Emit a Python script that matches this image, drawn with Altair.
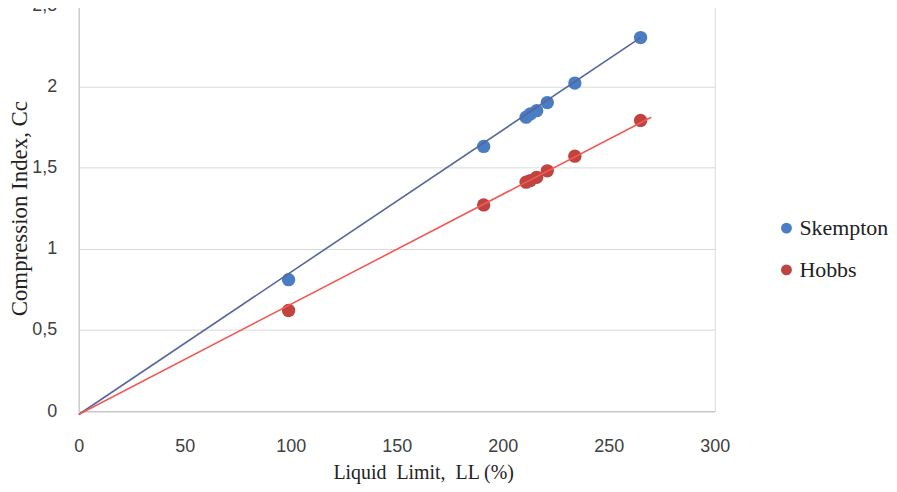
import altair as alt
import pandas as pd

ll = [99, 191, 211, 213, 216, 221, 234, 265]
skempton = [0.81, 1.63, 1.81, 1.83, 1.85, 1.90, 2.02, 2.30]
hobbs = [0.62, 1.27, 1.41, 1.42, 1.44, 1.48, 1.57, 1.79]

trend_x_skempton = [0, 265]
trend_y_skempton = [-0.02, 2.30]
trend_x_hobbs = [0, 270]
trend_y_hobbs = [-0.02, 1.81]

series = ["Skempton", "Hobbs"]
point_colors = ["#4a7dc4", "#c0433f"]
line_colors = ["#56669a", "#f25a55"]

pts = pd.DataFrame(
    {"LL": ll * 2, "Cc": skempton + hobbs, "Series": ["Skempton"] * len(ll) + ["Hobbs"] * len(ll)}
)
trend = pd.DataFrame(
    {
        "LL": trend_x_skempton + trend_x_hobbs,
        "Cc": trend_y_skempton + trend_y_hobbs,
        "Series": ["Skempton"] * 2 + ["Hobbs"] * 2,
    }
)

xscale = alt.Scale(domain=[0, 300], nice=False, zero=False)
yscale = alt.Scale(domain=[0, 2.5], nice=False, zero=False)

xaxis = alt.Axis(
    title="Liquid\u00a0 Limit,\u00a0\u00a0LL (%)",
    values=[0, 50, 100, 150, 200, 250, 300],
    grid=False,
    ticks=False,
    labelFlush=False,
    domainColor="#bfbfbf",
    labelFont="Liberation Sans",
    labelFontSize=18,
    labelColor="#404040",
    labelPadding=26,
    titleFont="Liberation Serif",
    titleFontSize=20,
    titleFontWeight="normal",
    titleColor="#222222",
    titlePadding=8,
    titleX=346,
)
yaxis = alt.Axis(
    title="Compression Index, Cc",
    values=[0, 0.5, 1, 1.5, 2, 2.5],
    labelExpr="replace(toString(datum.value), '.', ',')",
    grid=True,
    gridColor="#d9d9d9",
    ticks=False,
    labelFlush=False,
    domainColor="#bfbfbf",
    labelFont="Liberation Sans",
    labelFontSize=18,
    labelColor="#404040",
    labelPadding=22,
    titleFont="Liberation Serif",
    titleFontSize=23,
    titleFontWeight="normal",
    titleColor="#222222",
    titlePadding=0,
)

lines = (
    alt.Chart(trend)
    .mark_line(strokeWidth=1.6)
    .encode(
        x=alt.X("LL:Q", scale=xscale, axis=xaxis),
        y=alt.Y("Cc:Q", scale=yscale, axis=yaxis),
        detail="Series:N",
        color=alt.Color("Series:N", scale=alt.Scale(domain=series, range=line_colors), legend=None),
    )
)

points = (
    alt.Chart(pts)
    .mark_circle(size=180, opacity=1)
    .encode(
        x=alt.X("LL:Q", scale=xscale),
        y=alt.Y("Cc:Q", scale=yscale),
        fill=alt.Fill(
            "Series:N",
            scale=alt.Scale(domain=series, range=point_colors),
            legend=alt.Legend(
                title=None,
                orient="none",
                legendX=700,
                legendY=213,
                symbolType="circle",
                symbolSize=120,
                symbolStrokeWidth=0,
                labelFont="Liberation Serif",
                labelFontSize=22,
                labelColor="#222222",
                labelOffset=2,
                rowPadding=20,
                padding=0,
            ),
        ),
    )
)

chart = (
    alt.layer(points, lines)
    .resolve_scale(color="independent")
    .properties(
        width=639,
        height=408,
        autosize=alt.AutoSizeParams(type="none"),
        padding={"left": 71, "top": -4, "right": 175, "bottom": 72},
    )
    .configure_view(stroke=None)
    .configure(background="white")
)

chart.save("out.html", embed_options={"renderer": "svg", "actions": False})
